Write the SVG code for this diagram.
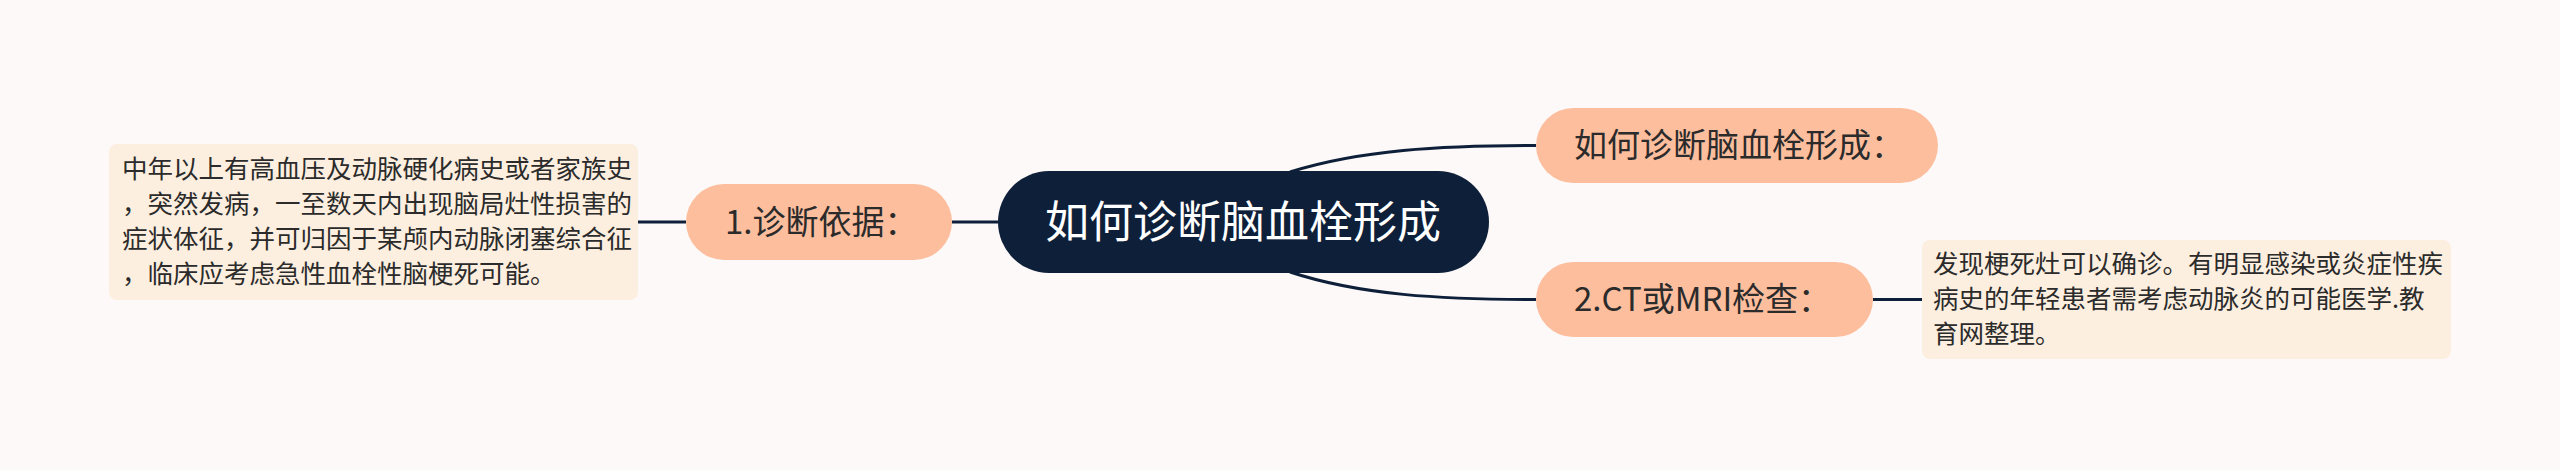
<svg xmlns="http://www.w3.org/2000/svg" width="2560" height="470" viewBox="0 0 2560 470">
<style>
.t{font-family:"Noto Sans CJK SC","Noto Sans",sans-serif;}
.root{fill:#0e1f39;}
.rt{fill:#ffffff;font-size:44px;}
.sub{fill:#fdbe9d;}
.st{fill:#2b2b2b;font-size:33px;}
.leaf{fill:#fdefe0;}
.lt{fill:#2b2b2b;font-size:25.5px;}
.c{fill:none;stroke:#0e1f39;stroke-width:3;}
</style>
<rect width="2560" height="470" fill="#fdf9f8"/>
<g id="connectors">
<path class="c" d="M998 222 L952 222"/>
<path class="c" d="M686 222 L638 222"/>
<path class="c" d="M1290 172 C1360 150 1440 145.5 1536 145.5"/>
<path class="c" d="M1290 272 C1360 295 1440 299.5 1536 299.5"/>
<path class="c" d="M1873 299.5 L1922 299.5"/>
</g>
<g id="root">
<rect class="root" x="998" y="171" width="491" height="102" rx="51"/>
<text class="t rt" x="1243" y="238" text-anchor="middle">如何诊断脑血栓形成</text>
</g>
<g id="n1">
<rect class="sub" x="686" y="184" width="266" height="76" rx="38"/>
<text class="t st" x="725" y="234">1.诊断依据：</text>
</g>
<g id="n2">
<rect class="sub" x="1536" y="108" width="402" height="75" rx="37.5"/>
<text class="t st" x="1574" y="157">如何诊断脑血栓形成：</text>
</g>
<g id="n3">
<rect class="sub" x="1536" y="262" width="337" height="75" rx="37.5"/>
<text class="t st" x="1574" y="311">2.CT或MRI检查：</text>
</g>
<g id="leaf1">
<rect class="leaf" x="109" y="144" width="529" height="156" rx="8"/>
<text class="t lt" x="122" y="178">中年以上有高血压及动脉硬化病史或者家族史</text>
<text class="t lt" x="122" y="213">，突然发病，一至数天内出现脑局灶性损害的</text>
<text class="t lt" x="122" y="248">症状体征，并可归因于某颅内动脉闭塞综合征</text>
<text class="t lt" x="122" y="283">，临床应考虑急性血栓性脑梗死可能。</text>
</g>
<g id="leaf2">
<rect class="leaf" x="1922" y="240" width="529" height="119" rx="8"/>
<text class="t lt" x="1933" y="273">发现梗死灶可以确诊。有明显感染或炎症性疾</text>
<text class="t lt" x="1933" y="308">病史的年轻患者需考虑动脉炎的可能医学.教</text>
<text class="t lt" x="1933" y="343">育网整理。</text>
</g>
</svg>
